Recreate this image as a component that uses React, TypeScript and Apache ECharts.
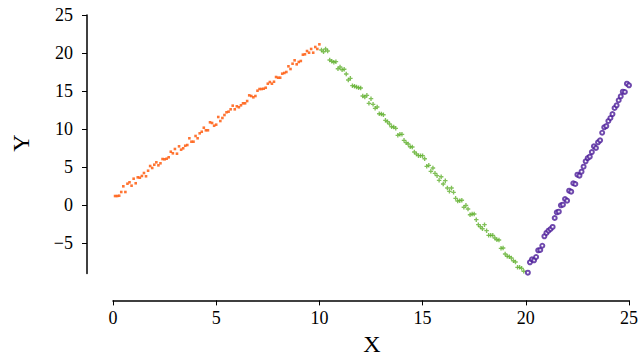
import React, { useEffect, useRef } from "react";
import * as echarts from "echarts";

const orangeX = [
  0.1, 0.2, 0.3, 0.4, 0.5, 0.6, 0.7, 0.8, 0.9, 1.0,
  1.1, 1.2, 1.3, 1.4, 1.5, 1.6, 1.7, 1.8, 1.9, 2.0,
  2.1, 2.2, 2.3, 2.4, 2.5, 2.6, 2.7, 2.8, 2.9, 3.0,
  3.1, 3.2, 3.3, 3.4, 3.5, 3.6, 3.7, 3.8, 3.9, 4.0,
  4.1, 4.2, 4.3, 4.4, 4.5, 4.6, 4.7, 4.8, 4.9, 5.0,
  5.1, 5.2, 5.3, 5.4, 5.5, 5.6, 5.7, 5.8, 5.9, 6.0,
  6.1, 6.2, 6.3, 6.4, 6.5, 6.6, 6.7, 6.8, 6.9, 7.0,
  7.1, 7.2, 7.3, 7.4, 7.5, 7.6, 7.7, 7.8, 7.9, 8.0,
  8.1, 8.2, 8.3, 8.4, 8.5, 8.6, 8.7, 8.8, 8.9, 9.0,
  9.1, 9.2, 9.3, 9.4, 9.5, 9.6, 9.7, 9.8, 9.9, 10.0,
];
const orangeY = [
  1.18, 1.18, 1.22, 1.71, 2.46, 1.71, 2.8, 2.99, 2.54, 3.46,
  2.86, 3.64, 3.59, 3.82, 4.21, 3.78, 4.51, 5.13, 4.87, 5.3,
  5.62, 5.22, 5.49, 6.05, 6.01, 6.09, 6.28, 7.01, 6.8, 7.37,
  6.75, 7.72, 7.28, 7.46, 7.8, 7.89, 8.78, 8.33, 8.33, 9.08,
  8.78, 9.43, 9.64, 10.17, 9.83, 9.83, 10.88, 10.79, 10.43, 10.57,
  11.58, 11.05, 11.45, 11.84, 12.2, 12.28, 12.59, 13.07, 12.59, 12.99,
  12.86, 13.12, 13.38, 13.38, 13.68, 14.43, 14.34, 14.17, 14.34, 15.04,
  15.26, 15.26, 15.3, 15.43, 15.96, 16.18, 15.96, 16.22, 16.84, 16.75,
  16.75, 17.28, 17.37, 17.5, 18.25, 17.89, 18.59, 19.04, 18.51, 18.82,
  18.95, 19.78, 19.83, 20.26, 20.04, 20.53, 20.04, 20.79, 20.53, 21.14,
];

const greenX = [
  10.1, 10.2, 10.3, 10.4, 10.5, 10.6, 10.7, 10.8, 10.9, 11.0,
  11.1, 11.2, 11.3, 11.4, 11.5, 11.6, 11.7, 11.8, 11.9, 12.0,
  12.1, 12.2, 12.3, 12.4, 12.5, 12.6, 12.7, 12.8, 12.9, 13.0,
  13.1, 13.2, 13.3, 13.4, 13.5, 13.6, 13.7, 13.8, 13.9, 14.0,
  14.1, 14.2, 14.3, 14.4, 14.5, 14.6, 14.7, 14.8, 14.9, 15.0,
  15.1, 15.2, 15.3, 15.4, 15.5, 15.6, 15.7, 15.8, 15.9, 16.0,
  16.1, 16.2, 16.3, 16.4, 16.5, 16.6, 16.7, 16.8, 16.9, 17.0,
  17.1, 17.2, 17.3, 17.4, 17.5, 17.6, 17.7, 17.8, 17.9, 18.0,
  18.1, 18.2, 18.3, 18.4, 18.5, 18.6, 18.7, 18.8, 18.9, 19.0,
  19.1, 19.2, 19.3, 19.4, 19.5, 19.6, 19.7, 19.8, 19.9,
];
const greenY = [
  20.39, 20.17, 20.53, 20.26, 19.08, 18.91, 18.78, 18.86, 17.93, 18.16,
  17.8, 17.86, 17.24, 16.45, 16.67, 15.7, 15.62, 15.53, 15.43, 15.39,
  14.34, 14.21, 14.43, 13.38, 13.99, 13.25, 12.72, 12.89, 12.01, 11.97,
  11.88, 11.14, 10.96, 10.66, 10.3, 10.26, 10.09, 9.17, 9.3, 9.3,
  8.51, 8.2, 8.03, 7.67, 7.63, 6.97, 6.71, 6.49, 6.49, 6.49,
  6.09, 5.09, 5.22, 4.43, 4.87, 4.17, 3.86, 3.25, 3.72, 2.76,
  3.2, 2.24, 1.8, 2.24, 1.67, 0.88, 0.53, 0.57, 0.62, -0.3,
  -0.04, -0.53, -1.28, -1.18, -1.18, -1.93, -2.59, -2.86, -3.12, -2.59,
  -3.38, -3.99, -3.99, -3.99, -4.34, -4.57, -4.61, -5.7, -5.66, -6.45,
  -6.75, -6.8, -6.97, -7.33, -7.5, -8.2, -8.2, -8.33, -8.72,
];

const purpleX = [
  20.1, 20.2, 20.3, 20.4, 20.5, 20.6, 20.7, 20.8, 20.9, 21.0,
  21.1, 21.2, 21.3, 21.4, 21.5, 21.6, 21.7, 21.8, 21.9, 22.0,
  22.1, 22.2, 22.3, 22.4, 22.5, 22.6, 22.7, 22.8, 22.9, 23.0,
  23.1, 23.2, 23.3, 23.4, 23.5, 23.6, 23.7, 23.8, 23.9, 24.0,
  24.1, 24.2, 24.3, 24.4, 24.5, 24.6, 24.7, 24.8, 24.9, 25.0,
];
const purpleY = [
  -8.91, -7.54, -7.14, -7.28, -6.84, -5.96, -5.92, -5.36, -4.12, -3.68,
  -3.38, -3.16, -2.89, -1.71, -0.96, -0.88, -0.04, 0.04, 0.79, 0.57,
  1.88, 1.75, 2.86, 2.76, 3.99, 3.86, 4.38, 5.04, 5.75, 6.18,
  6.36, 6.97, 7.72, 7.5, 8.25, 8.51, 9.51, 10.22, 10.39, 11.05,
  11.45, 11.97, 12.76, 13.12, 13.78, 14.3, 14.91, 14.87, 15.96, 15.75,
];

const xTicks = [0, 5, 10, 15, 20, 25];
const yTicks = [-5, 0, 5, 10, 15, 20, 25];

const FONT = "'Liberation Serif', 'DejaVu Serif', serif";
const PLUS = "path://M3.5,0H6.5V3.5H10V6.5H6.5V10H3.5V6.5H0V3.5H3.5Z";

export default function App() {
  const ref = useRef<HTMLDivElement>(null);
  useEffect(() => {
    const chart = echarts.init(ref.current!, null, { renderer: "svg" });
    const fmt = (v: number) => String(v).replace("-", "\u2212");
    const zip = (xs: number[], ys: number[]) => xs.map((x, i) => [x, ys[i]]);
    chart.setOption({
      animation: false,
      backgroundColor: "#ffffff",
      grid: { left: 113, width: 516, top: 15, height: 258.4 },
      xAxis: {
        type: "value",
        min: 0,
        max: 25,
        interval: 5,
        position: "bottom",
        offset: 27,
        splitLine: { show: false },
        axisLine: { show: true, onZero: false, lineStyle: { color: "#000", width: 1.5 } },
        axisTick: { show: true, inside: false, length: 5, lineStyle: { color: "#000", width: 1 }, customValues: xTicks },
        axisLabel: { customValues: xTicks, margin: 9, color: "#000", fontFamily: FONT, fontSize: 18, formatter: fmt },
      },
      yAxis: {
        type: "value",
        min: -9,
        max: 25,
        position: "left",
        offset: 26,
        splitLine: { show: false },
        axisLine: { show: true, onZero: false, lineStyle: { color: "#000", width: 1.5 } },
        axisTick: { show: true, inside: false, length: 5, lineStyle: { color: "#000", width: 1 }, customValues: yTicks },
        axisLabel: { customValues: yTicks, margin: 14, color: "#000", fontFamily: FONT, fontSize: 18, formatter: fmt },
      },
      graphic: [
        {
          type: "text",
          x: 372,
          y: 343.5,
          style: { text: "X", font: `24px ${FONT}`, lineHeight: 20, fill: "#000", textAlign: "center", textVerticalAlign: "middle" },
        },
        {
          type: "text",
          x: 20.5,
          y: 143,
          rotation: Math.PI / 2,
          style: { text: "Y", font: `24px ${FONT}`, lineHeight: 20, fill: "#000", textAlign: "center", textVerticalAlign: "middle" },
        },
      ],
      series: [
        {
          type: "scatter",
          data: zip(orangeX, orangeY),
          symbol: "rect",
          symbolSize: 2.6,
          itemStyle: { color: "#ff5200" },
          silent: true,
        },
        {
          type: "scatter",
          data: zip(greenX, greenY),
          symbol: PLUS,
          symbolSize: 4.5,
          itemStyle: { color: "#62b030" },
          silent: true,
        },
        {
          type: "scatter",
          data: zip(purpleX, purpleY),
          symbol: "emptyCircle",
          symbolSize: 4,
          itemStyle: { color: "#4b1c98", borderWidth: 1 },
          silent: true,
        },
      ],
    });
    return () => chart.dispose();
  }, []);
  return (
    <div
      ref={ref}
      style={{ position: "absolute", left: 0, top: 0, width: 641, height: 356, background: "#fff" }}
    />
  );
}
